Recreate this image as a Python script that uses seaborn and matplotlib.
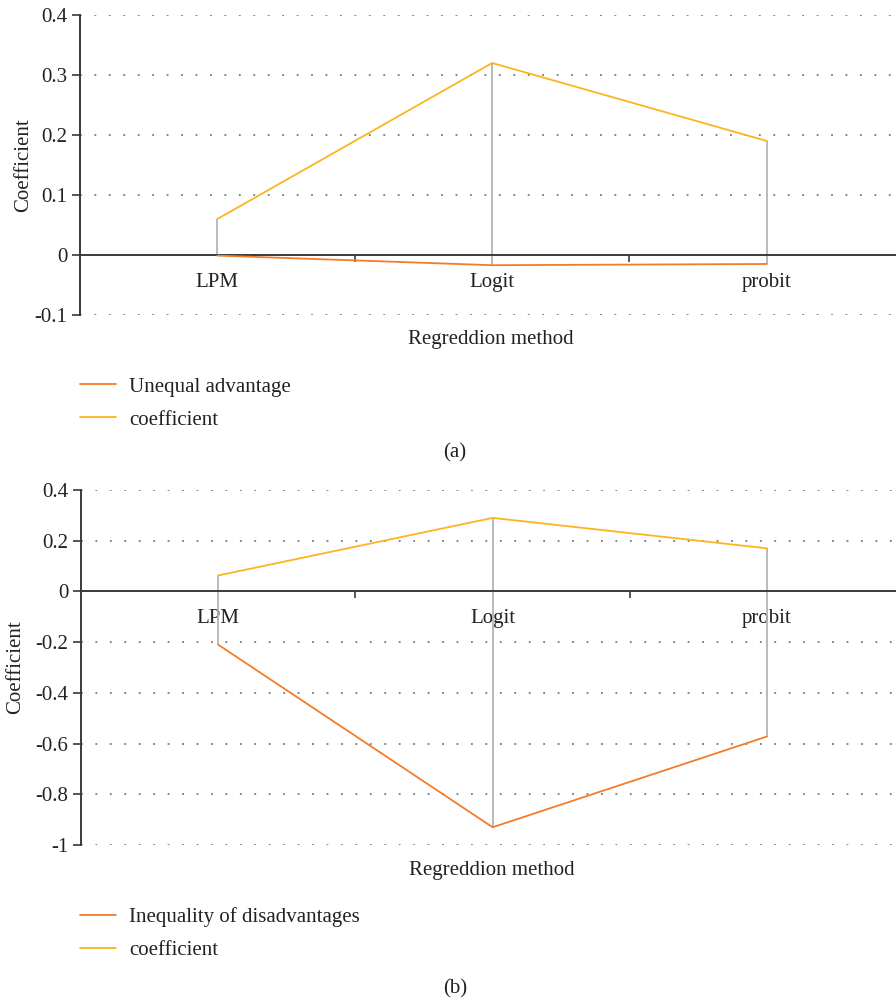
import numpy as np
import pandas as pd
import matplotlib
matplotlib.use("Agg")
import matplotlib.pyplot as plt
from matplotlib.ticker import FixedLocator, FuncFormatter, NullFormatter
import seaborn as sns

# data
methods = ["LPM", "Logit", "probit"]
coef_a = [0.06, 0.32, 0.19]
unequal_adv = [-0.001, -0.017, -0.015]
coef_b = [0.063, 0.29, 0.17]
ineq_disadv = [-0.21, -0.93, -0.572]

ORANGE = "#F47B2A"
YELLOW = "#FDB41E"
GRAY = "#b4b4b4"
DARK = "#3a3a3a"

sns.set_theme(style="white")
plt.rcParams["font.family"] = ["Liberation Serif", "DejaVu Serif"]
plt.rcParams["axes.unicode_minus"] = False
FS = 15


def fmt(v, pos):
    v = round(v, 2)
    if v == 0:
        return "0"
    return "%g" % v


def draw_panel(fig, rect, neg, neg_name, coef, ylim, ystep, xlab_y, ylab_x,
               leg_anchor, tag, tag_y):
    ax = fig.add_axes(rect)
    pos = np.arange(len(methods))
    df = pd.DataFrame({
        "pos": np.concatenate([pos, pos]),
        "value": neg + coef,
        "series": [neg_name] * len(methods) + ["coefficient"] * len(methods),
    })

    # high-low connectors between the two series
    ax.vlines(pos, np.minimum(neg, coef), np.maximum(neg, coef),
              color=GRAY, lw=1.3, zorder=2)
    sns.lineplot(data=df, x="pos", y="value", hue="series",
                 palette={neg_name: ORANGE, "coefficient": YELLOW},
                 lw=1.3, ax=ax, zorder=3, legend=True)
    handles, labels = ax.get_legend_handles_labels()
    ax.get_legend().remove()

    ax.set_xlim(-0.5, 2.47)
    ax.set_ylim(*ylim)
    yt = np.round(np.arange(ylim[0], ylim[1] + ystep / 2, ystep), 2)
    ax.set_yticks(yt)
    ax.yaxis.set_major_formatter(FuncFormatter(fmt))
    ax.yaxis.grid(True, linestyle=(0, (1, 7)), color="#777777", lw=1.3)
    ax.xaxis.grid(False)

    for s in ["top", "right"]:
        ax.spines[s].set_visible(False)
    ax.spines["left"].set_color(DARK)
    ax.spines["left"].set_linewidth(1.4)
    ax.spines["bottom"].set_position(("data", 0))
    ax.spines["bottom"].set_color(DARK)
    ax.spines["bottom"].set_linewidth(1.4)
    ax.spines["bottom"].set_zorder(2.5)

    # boundary ticks on the zero line, labels at category centres
    ax.xaxis.set_major_locator(FixedLocator([0.5, 1.5]))
    ax.xaxis.set_major_formatter(NullFormatter())
    ax.xaxis.set_minor_locator(FixedLocator(pos))
    ax.set_xticklabels(methods, minor=True)
    ax.tick_params(axis="x", which="major", bottom=True, direction="out",
                   length=5, width=1.2, color=DARK)
    ax.tick_params(axis="x", which="minor", bottom=True, length=0, pad=13,
                   labelsize=FS, labelcolor="#222222")
    ax.tick_params(axis="y", left=True, direction="out", length=6, width=1.2,
                   color=DARK, labelsize=FS, labelcolor="#222222", pad=3)

    ax.set_xlabel("Regreddion method", fontsize=FS, color="#222222")
    ax.xaxis.set_label_coords(0.504, xlab_y)
    ax.set_ylabel("Coefficient", fontsize=FS, color="#222222")
    ax.yaxis.set_label_coords(ylab_x, 0.5)

    fig.legend(handles, labels, loc="upper left", bbox_to_anchor=leg_anchor,
               frameon=False, fontsize=FS, handlelength=1.75,
               handletextpad=0.6, labelspacing=0.65, borderpad=0,
               borderaxespad=0, labelcolor="#222222")
    fig.text(0.508, tag_y, tag, fontsize=FS, ha="center", va="center",
             color="#222222")
    return ax


fig = plt.figure(figsize=(8.96, 10.02), dpi=100)

draw_panel(fig, [80 / 896, 1 - 315 / 1002, 816 / 896, 300 / 1002],
           unequal_adv, "Unequal advantage", coef_a, (-0.1, 0.4), 0.1,
           -0.05, -0.057, (80 / 896, 1 - 377 / 1002), "(a)", 1 - 453 / 1002)

draw_panel(fig, [81 / 896, 1 - 845 / 1002, 815 / 896, 355 / 1002],
           ineq_disadv, "Inequality of disadvantages", coef_b, (-1.0, 0.4), 0.2,
           -0.045, -0.068, (80 / 896, 1 - 907 / 1002), "(b)", 1 - 989 / 1002)

fig.savefig("out.png", dpi=100)
